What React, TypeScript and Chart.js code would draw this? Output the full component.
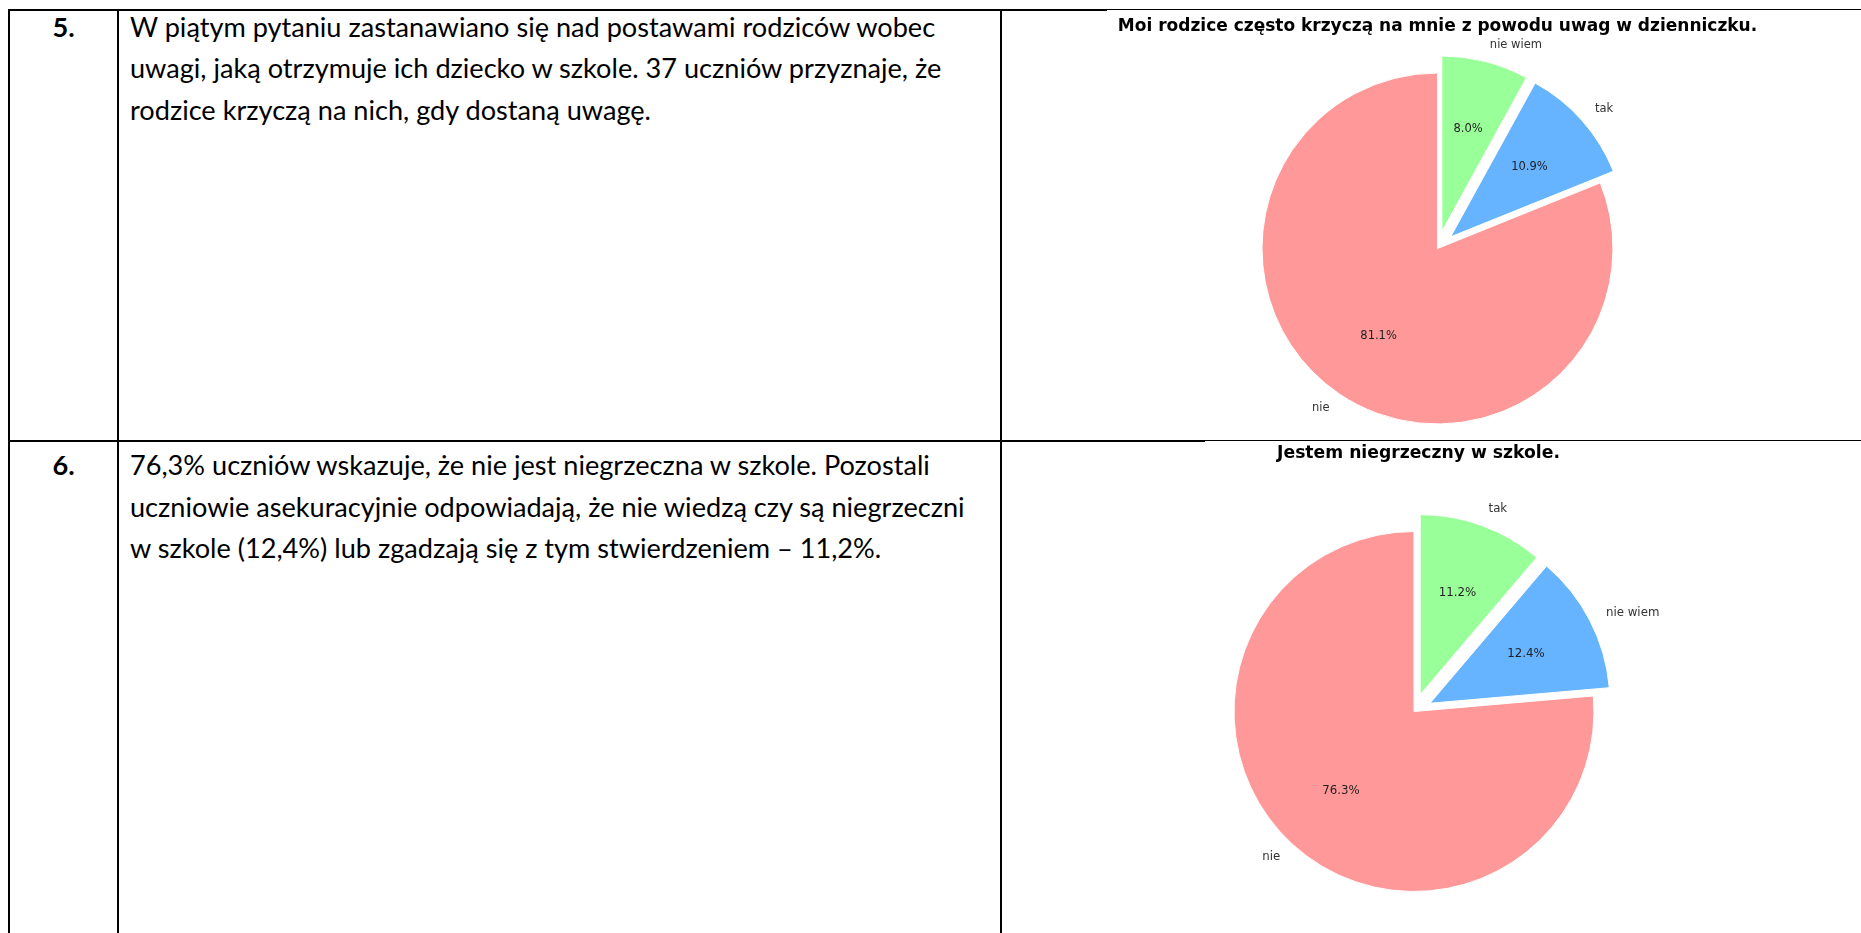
import React, { useEffect, useMemo, useRef } from "react";
import { Chart, registerables } from "chart.js";

Chart.register(...registerables);

// ---------------- data ----------------
const row1Number = "5.";
const row1Lines = [
  "W piątym pytaniu zastanawiano się nad postawami rodziców wobec",
  "uwagi, jaką otrzymuje ich dziecko w szkole. 37 uczniów przyznaje, że",
  "rodzice krzyczą na nich, gdy dostaną uwagę.",
];

const row2Number = "6.";
const row2Lines = [
  "76,3% uczniów wskazuje, że nie jest niegrzeczna w szkole. Pozostali",
  "uczniowie asekuracyjnie odpowiadają, że nie wiedzą czy są niegrzeczni",
  "w szkole (12,4%) lub zgadzają się z tym stwierdzeniem – 11,2%.",
];

const chart1Title = "Moi rodzice często krzyczą na mnie z powodu uwag w dzienniczku.";
const chart1Labels = ["nie wiem", "tak", "nie"];
const chart1Values = [8.0, 10.9, 81.1];
const chart1Colors = ["#99ff99", "#66b3ff", "#ff9999"];
const chart1Explode = [0.1, 0.1, 0];

const chart2Title = "Jestem niegrzeczny w szkole.";
const chart2Labels = ["tak", "nie wiem", "nie"];
const chart2Values = [11.2, 12.4, 76.3];
const chart2Colors = ["#99ff99", "#66b3ff", "#ff9999"];
const chart2Explode = [0.1, 0.1, 0];

// ---------------- layout ----------------
const PAGE_W = 1861;
const PAGE_H = 933;
const TEXT_FONT = "Lato";
const TEXT_LEFT = 130;
const TEXT_TARGET_WIDTH = 807;
const LINE_STEP = 41.6;
const ROW1_BASELINE = 36.5;
const ROW2_BASELINE = 475;
const ROW_DIVIDER_Y = 440;
const NUM_CENTER_X = 63.5;

// matplotlib-like pie plugin: explode, outer labels, percentage labels, title
const mplPiePlugin = {
  id: "mplPie",
  afterDatasetsUpdate(chart: any, _args: any, opts: any) {
    const meta = chart.getDatasetMeta(0);
    const explode: number[] = opts.explode || [];
    meta.data.forEach((arc: any, i: number) => {
      const e = explode[i] || 0;
      if (!e) return;
      const mid = (arc.startAngle + arc.endAngle) / 2;
      const d = e * arc.outerRadius;
      arc.x += Math.cos(mid) * d;
      arc.y += Math.sin(mid) * d;
    });
  },
  afterDraw(chart: any, _args: any, opts: any) {
    const ctx: CanvasRenderingContext2D = chart.ctx;
    const meta = chart.getDatasetMeta(0);
    const area = chart.chartArea;
    const cx = (area.left + area.right) / 2;
    const cy = (area.top + area.bottom) / 2;
    const labels = chart.data.labels as string[];
    const values = chart.data.datasets[0].data as number[];
    ctx.save();
    meta.data.forEach((arc: any, i: number) => {
      const mid = (arc.startAngle + arc.endAngle) / 2;
      const r = arc.outerRadius;
      const lx = arc.x + opts.labelDistance * r * Math.cos(mid);
      const ly = arc.y + opts.labelDistance * r * Math.sin(mid);
      ctx.font = `${opts.labelSize}px "DejaVu Sans"`;
      ctx.fillStyle = opts.labelColor;
      ctx.textBaseline = "middle";
      ctx.textAlign = lx > cx ? "left" : "right";
      ctx.fillText(labels[i], lx, ly);

      const px = arc.x + opts.pctDistance * r * Math.cos(mid);
      const py = arc.y + opts.pctDistance * r * Math.sin(mid);
      ctx.fillStyle = opts.pctColor;
      ctx.textAlign = "center";
      ctx.fillText(values[i].toFixed(1) + "%", px, py);
    });
    ctx.font = `bold ${opts.titleSize}px "DejaVu Sans"`;
    ctx.fillStyle = "#000000";
    ctx.textAlign = "center";
    ctx.textBaseline = "alphabetic";
    ctx.fillText(opts.title, cx + opts.titleDx, cy + opts.titleDy);
    ctx.restore();
  },
};

type PieProps = {
  left: number;
  top: number;
  width: number;
  height: number;
  radius: number;
  labels: string[];
  values: number[];
  colors: string[];
  explode: number[];
  title: string;
  titleSize: number;
  titleDx: number;
  titleDy: number;
  labelSize: number;
};

function PieCanvas(p: PieProps) {
  const ref = useRef<HTMLCanvasElement>(null);
  useEffect(() => {
    if (!ref.current) return;
    const chart = new Chart(ref.current, {
      type: "pie",
      data: {
        labels: p.labels,
        datasets: [
          {
            data: p.values,
            backgroundColor: p.colors,
            borderColor: "#ffffff",
            borderWidth: 1,
            radius: p.radius,
          } as any,
        ],
      },
      options: {
        responsive: false,
        animation: false,
        events: [],
        radius: p.radius,
        layout: { padding: 0 },
        plugins: {
          legend: { display: false },
          tooltip: { enabled: false },
          mplPie: {
            explode: p.explode,
            labelDistance: 1.1,
            pctDistance: 0.6,
            labelSize: p.labelSize,
            labelColor: "#333333",
            pctColor: "#1f1f1f",
            title: p.title,
            titleSize: p.titleSize,
            titleDx: p.titleDx,
            titleDy: p.titleDy,
          },
        } as any,
      } as any,
      plugins: [mplPiePlugin as any],
    });
    return () => chart.destroy();
  }, []);
  return (
    <canvas
      ref={ref}
      width={p.width}
      height={p.height}
      style={{ position: "absolute", left: p.left, top: p.top, width: p.width, height: p.height }}
    />
  );
}

function fitFontSize(text: string, family: string, target: number): number {
  const c = document.createElement("canvas").getContext("2d");
  if (!c) return 18;
  c.font = `100px ${family}`;
  const w = c.measureText(text).width;
  return w > 0 ? (100 * target) / w : 18;
}

export default function App() {
  const fs = useMemo(() => fitFontSize(row1Lines[0], `"${TEXT_FONT}"`, TEXT_TARGET_WIDTH), []);
  const black = "#000000";
  return (
    <div
      style={{
        position: "fixed",
        left: 0,
        top: 0,
        width: PAGE_W,
        height: PAGE_H,
        overflow: "hidden",
        background: "#ffffff",
      }}
    >
      <svg
        width={PAGE_W}
        height={PAGE_H}
        style={{ position: "absolute", left: 0, top: 0 }}
      >
        {/* table lines */}
        <rect x={8} y={9} width={2} height={PAGE_H - 9} fill={black} />
        <rect x={117} y={9} width={2} height={PAGE_H - 9} fill={black} />
        <rect x={1000} y={9} width={2} height={PAGE_H - 9} fill={black} />
        <rect x={8} y={9} width={1107 - 8} height={2} fill={black} />
        <rect x={1107} y={9} width={PAGE_W - 1107} height={1} fill={black} />
        <rect x={8} y={ROW_DIVIDER_Y} width={1205 - 8} height={2} fill={black} />
        <rect x={1205} y={ROW_DIVIDER_Y} width={PAGE_W - 1205} height={1} fill={black} />

        {/* row numbers */}
        <text x={NUM_CENTER_X} y={ROW1_BASELINE} textAnchor="middle" fontFamily={TEXT_FONT} fontWeight="bold" fontSize={fs} fill={black}>
          {row1Number}
        </text>
        <text x={NUM_CENTER_X} y={ROW2_BASELINE} textAnchor="middle" fontFamily={TEXT_FONT} fontWeight="bold" fontSize={fs} fill={black}>
          {row2Number}
        </text>

        {row1Lines.map((line, i) => (
          <text key={"r1" + i} x={TEXT_LEFT} y={ROW1_BASELINE + i * LINE_STEP} fontFamily={TEXT_FONT} fontSize={fs} fill={black}>
            {line}
          </text>
        ))}
        {row2Lines.map((line, i) => (
          <text key={"r2" + i} x={TEXT_LEFT} y={ROW2_BASELINE + i * LINE_STEP} fontFamily={TEXT_FONT} fontSize={fs} fill={black}>
            {line}
          </text>
        ))}
      </svg>

      <PieCanvas
        left={1037}
        top={11}
        width={801}
        height={475}
        radius={175.5}
        labels={chart1Labels}
        values={chart1Values}
        colors={chart1Colors}
        explode={chart1Explode}
        title={chart1Title}
        titleSize={17}
        titleDx={0}
        titleDy={-218}
        labelSize={11.5}
      />
      <PieCanvas
        left={1014}
        top={443}
        width={800}
        height={537}
        radius={180}
        labels={chart2Labels}
        values={chart2Values}
        colors={chart2Colors}
        explode={chart2Explode}
        title={chart2Title}
        titleSize={17.2}
        titleDx={4.5}
        titleDy={-253.2}
        labelSize={11.8}
      />
    </div>
  );
}
